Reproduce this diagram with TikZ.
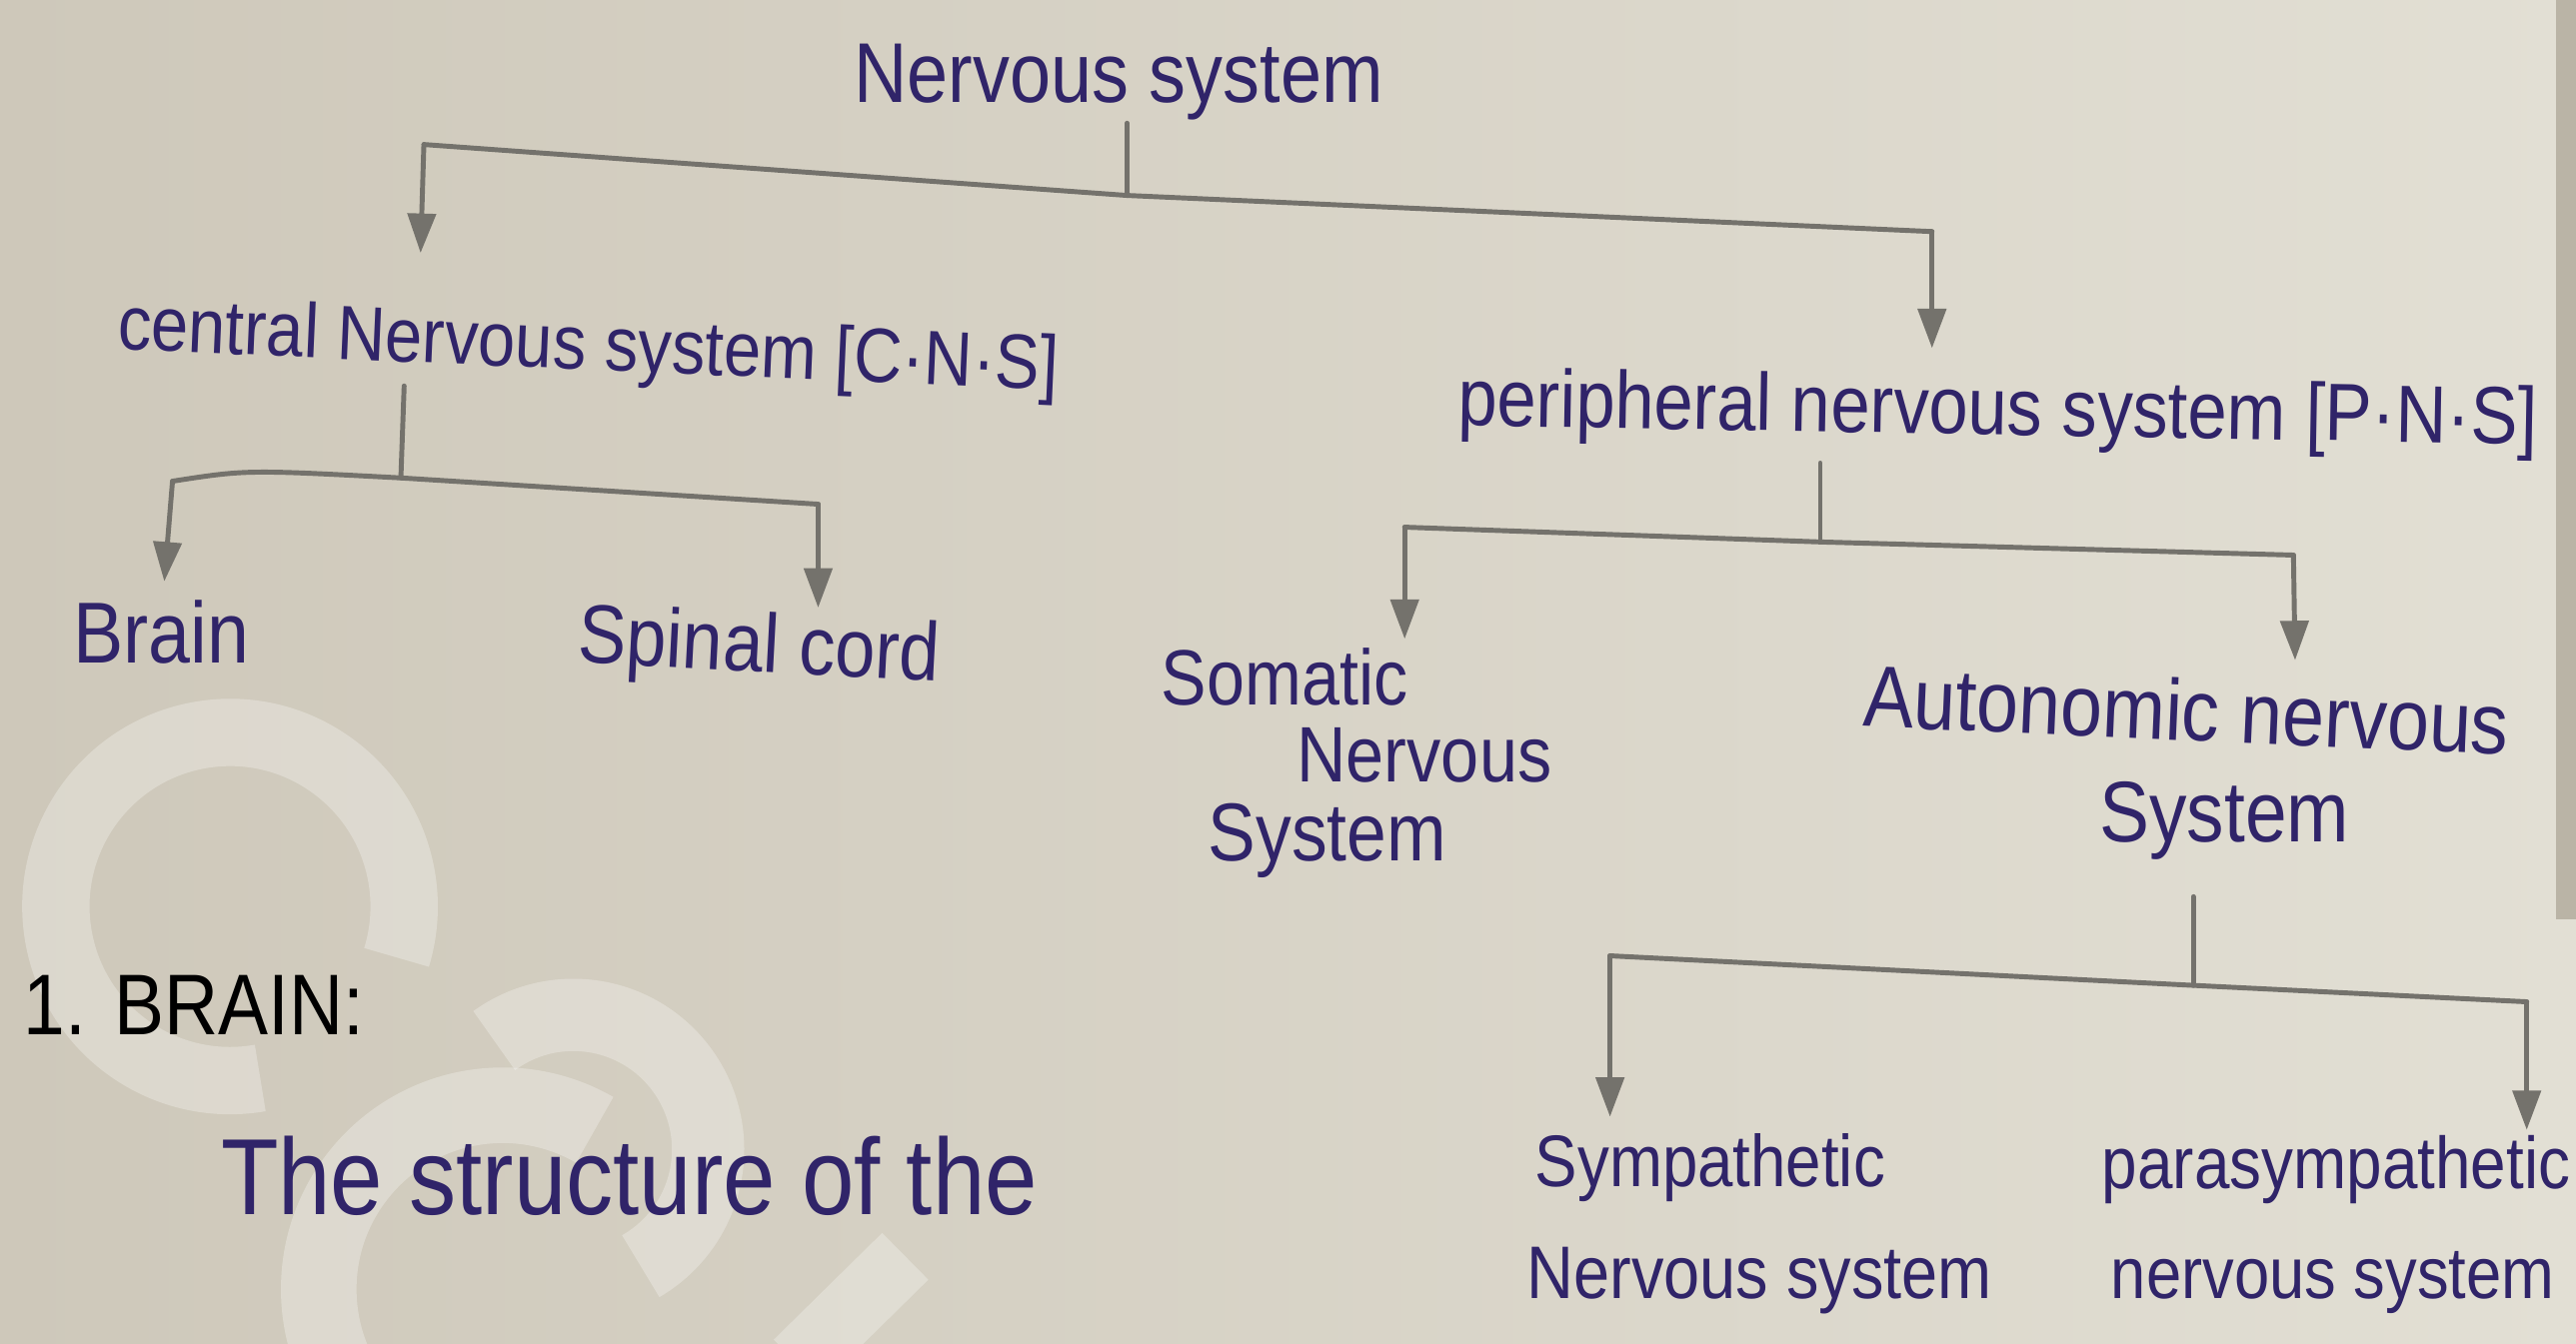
\documentclass[tikz,border=0pt]{standalone}
\usepackage{fontspec}
\setmainfont{Liberation Sans}
\usetikzlibrary{arrows.meta}
\definecolor{ink}{RGB}{48,36,105}
\definecolor{pencil}{RGB}{116,114,108}
\definecolor{paperL}{RGB}{206,200,186}
\definecolor{paperR}{RGB}{226,223,212}
\definecolor{edge}{RGB}{186,180,166}
\newcommand\hw[2]{\scalebox{1}[1.15]{\resizebox{#1pt}{!}{\fontsize{40}{48}\selectfont #2}}}
\begin{document}
\begin{tikzpicture}[x=1pt,y=-1pt,
  hand/.style={inner sep=0pt, text=ink},
  conn/.style={draw=pencil, line width=3pt, line cap=round, line join=round},
  arr/.style={conn, -{Triangle[width=17pt,length=24pt]}},
  wmark/.style={draw=white, opacity=0.28}
]
\useasboundingbox (0,0) rectangle (1568,818);
\fill[left color=paperL, right color=paperR] (0,0) rectangle (1568,818);
\fill[edge] (1556,0) rectangle (1568,560);
% watermark
\draw[wmark, line width=41pt] (140,552) ++(80:106) arc[start angle=80, end angle=377, radius=106];
\draw[wmark, line width=46pt] (306,785) ++(90:112) arc[start angle=90, end angle=300, radius=112];
\draw[wmark, line width=44pt] (349,700) ++(234:82) arc[start angle=234, end angle=420, radius=82];
\draw[wmark, line width=40pt] (485,830) -- (551,765);

% texts
\node[hand] (ns) at (681,50) {\hw{322}{Nervous system}};
\node[hand, rotate=-2.5] (cns) at (358,213) {\hw{573}{central Nervous system [C·N·S]}};
\node[hand, rotate=-1] (pns) at (1216,252) {\hw{657}{peripheral nervous system [P·N·S]}};
\node[hand] (brain) at (98,385) {\hw{107}{Brain}};
\node[hand, rotate=-3] (sc) at (462,396) {\hw{220}{Spinal cord}};
\node[hand] (som1) at (782,412) {\hw{150}{Somatic}};
\node[hand] (som2) at (867,460) {\hw{155}{Nervous}};
\node[hand] (som3) at (808,512) {\hw{145}{System}};
\node[hand, rotate=-2.5] (ans1) at (1331,432) {\hw{393}{Autonomic nervous}};
\node[hand] (ans2) at (1354,500) {\hw{152}{System}};
\node[hand] (sym1) at (1041,711) {\hw{213}{Sympathetic}};
\node[hand] (sym2) at (1071,780) {\hw{283}{Nervous system}};
\node[hand] (par1) at (1422,712) {\hw{285}{parasympathetic}};
\node[hand] (par2) at (1420,781) {\hw{270}{nervous system}};
\node[hand, text=black] (h1) at (118,612) {\hw{207}{1. BRAIN:}};
\node[hand] (st) at (383,716) {\hw{497}{The structure of the}};

% junction coordinates
\coordinate (t0) at (686,75);   \coordinate (t1) at (686,119);
\coordinate (tl) at (258,88);   \coordinate (tr) at (1176,141);
\coordinate (tla) at (256,154); \coordinate (tra) at (1176,212);

\coordinate (c0) at (246,235);  \coordinate (c1) at (244,291);
\coordinate (cl) at (105,293);  \coordinate (cr) at (498,307);
\coordinate (cla) at (100,354); \coordinate (cra) at (498,370);

\coordinate (p0) at (1108,282); \coordinate (p1) at (1108,330);
\coordinate (pl) at (855,321);  \coordinate (pr) at (1396,338);
\coordinate (pla) at (855,389); \coordinate (pra) at (1397,402);

\coordinate (a0) at (1335,546); \coordinate (a1) at (1335,600);
\coordinate (al) at (980,582);  \coordinate (ar) at (1538,610);
\coordinate (ala) at (980,680); \coordinate (ara) at (1538,688);

% connectors
\draw[conn] (t0) -- (t1);
\draw[conn] (tl) -- (t1) -- (tr);
\draw[arr] (tl) -- (tla);
\draw[arr] (tr) -- (tra);

\draw[conn] (c0) -- (c1);
\draw[conn] (cl) .. controls (150,286) .. (c1) -- (cr);
\draw[arr] (cl) -- (cla);
\draw[arr] (cr) -- (cra);

\draw[conn] (p0) -- (p1);
\draw[conn] (pl) -- (p1) -- (pr);
\draw[arr] (pl) -- (pla);
\draw[arr] (pr) -- (pra);

\draw[conn] (a0) -- (a1);
\draw[conn] (al) -- (a1) -- (ar);
\draw[arr] (al) -- (ala);
\draw[arr] (ar) -- (ara);
\end{tikzpicture}
\end{document}
